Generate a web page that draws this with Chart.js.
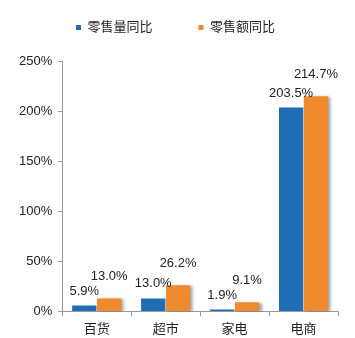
<!DOCTYPE html>
<html>
<head>
<meta charset="utf-8">
<script src="https://cdn.jsdelivr.net/npm/chart.js@4"></script>
<style>
  html, body { margin:0; padding:0; background:#fff; }
  #wrap { width:355px; height:338px; }
</style>
</head>
<body>
<div id="wrap"><canvas id="c" width="355" height="338"></canvas></div>
<script>
const categories = ['百货', '超市', '家电', '电商'];
const volumeYoY  = [5.9, 13.0, 1.9, 203.5];   // 零售量同比
const amountYoY  = [13.0, 26.2, 9.1, 214.7];  // 零售额同比
const seriesNames = ['零售量同比', '零售额同比'];

const FONT = '"Liberation Sans", Arial, "Noto Sans CJK SC", sans-serif';

// value labels above the bars, orange ones sit a bit higher
const valueLabels = {
  id: 'valueLabels',
  afterDatasetsDraw(chart) {
    const ctx = chart.ctx;
    ctx.save();
    ctx.font = '13px ' + FONT;
    ctx.fillStyle = '#222';
    ctx.textAlign = 'center';
    ctx.textBaseline = 'bottom';
    chart.data.datasets.forEach((ds, di) => {
      const meta = chart.getDatasetMeta(di);
      const lift = di === 0 ? 8 : 15;
      meta.data.forEach((bar, i) => {
        ctx.fillText(ds.data[i].toFixed(1) + '%', bar.x, bar.y - lift);
      });
    });
    ctx.restore();
  }
};

// soft shadow on the right of the orange bars
const barShadow = {
  id: 'barShadow',
  beforeDatasetDraw(chart, args) {
    if (args.index !== 1) return;
    const ctx = chart.ctx;
    ctx.save();
    ctx.shadowColor = 'rgba(0,0,0,0.35)';
    ctx.shadowOffsetX = 3;
    ctx.shadowOffsetY = 1;
    ctx.shadowBlur = 3;
  },
  afterDatasetDraw(chart, args) {
    if (args.index === 1) chart.ctx.restore();
  }
};

// push the plot area down below the legend
const legendGap = {
  id: 'legendGap',
  beforeInit(chart) {
    const fit = chart.legend.fit;
    chart.legend.fit = function () {
      fit.bind(chart.legend)();
      this.height += 17;
    };
  }
};

new Chart(document.getElementById('c').getContext('2d'), {
  type: 'bar',
  data: {
    labels: categories,
    datasets: [
      { label: seriesNames[0], data: volumeYoY, backgroundColor: '#1f6db5', borderWidth: 0 },
      { label: seriesNames[1], data: amountYoY, backgroundColor: '#ef8a2f', borderWidth: 0 }
    ]
  },
  options: {
    responsive: false, animation: false,
    datasets: { bar: { categoryPercentage: 0.72, barPercentage: 0.98 } },
    layout: { padding: { left: 13, right: 17, top: -25, bottom: -4 } },
    plugins: {
      legend: {
        position: 'top',
        labels: { boxWidth: 5, boxHeight: 5, padding: 46, color: '#222', font: { size: 13, family: FONT } }
      },
      tooltip: { enabled: false }
    },
    scales: {
      x: {
        grid: { drawOnChartArea: false, drawTicks: true, tickLength: 5, color: '#999' },
        border: { color: '#999' },
        ticks: { color: '#222', font: { size: 13, family: FONT }, padding: 5 }
      },
      y: {
        min: 0, max: 250,
        grid: { drawOnChartArea: false, drawTicks: true, tickLength: 4, color: '#999' },
        border: { color: '#999' },
        ticks: { stepSize: 50, color: '#222', font: { size: 13, family: FONT }, padding: 6, callback: v => v + '%' }
      }
    }
  },
  plugins: [valueLabels, barShadow, legendGap]
});
</script>
</body>
</html>
